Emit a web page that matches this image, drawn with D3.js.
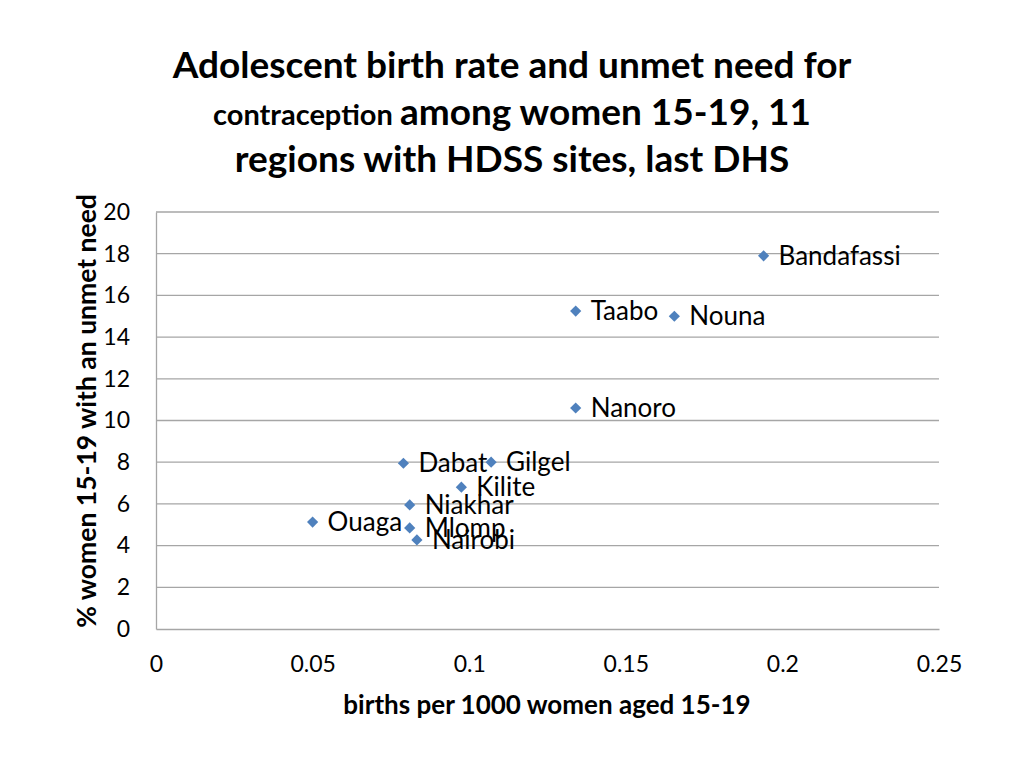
<!DOCTYPE html>
<html><head><meta charset="utf-8">
<script src="https://cdn.jsdelivr.net/npm/d3@7"></script>
<style>body{margin:0;background:#fff}svg{display:block}text{font-family:Lato,"Open Sans",sans-serif}</style>
</head><body><svg id="c" width="1024" height="768"></svg>
<script>
const sites = ["Bandafassi","Taabo","Nouna","Nanoro","Dabat","Gilgel","Kilite","Niakhar","Ouaga","Mlomp","Nairobi"];
const birthRate = [0.194,0.134,0.1655,0.134,0.079,0.107,0.0975,0.081,0.050,0.081,0.0833];
const unmetNeed = [17.9,15.25,15.0,10.6,7.95,8.0,6.8,5.95,5.13,4.85,4.27];
const xTicks = [0,0.05,0.1,0.15,0.2,0.25];
const yTicks = [0,2,4,6,8,10,12,14,16,18,20];

const svg = d3.select("#c");
const x = d3.scaleLinear().domain([0,0.25]).range([156,939]);
const y = d3.scaleLinear().domain([0,20]).range([629,212]);

// gridlines
svg.append("g").selectAll("line").data(yTicks.filter(d=>d>0)).join("line")
  .attr("x1",156).attr("x2",939).attr("y1",d=>y(d)).attr("y2",d=>y(d))
  .attr("stroke","#a6a6a6").attr("stroke-width",1.3);

// axes
const yAxis = svg.append("g").attr("transform","translate(156,0)")
  .call(d3.axisLeft(y).tickValues(yTicks).tickSize(0).tickPadding(26).tickFormat(d3.format("d")));
const xAxis = svg.append("g").attr("transform","translate(0,629)")
  .call(d3.axisBottom(x).tickValues(xTicks).tickSize(0).tickPadding(27).tickFormat(d=>d===0?"0":String(d)));
[yAxis,xAxis].forEach(a=>{
  a.select(".domain").attr("stroke","#a6a6a6").attr("stroke-width",1.3);
  a.selectAll("text").attr("font-size",23).attr("fill","#000").attr("font-family","Lato,sans-serif");
});

// points
const data = sites.map((s,i)=>({s,x:birthRate[i],y:unmetNeed[i]}));
svg.append("g").selectAll("path").data(data).join("path")
  .attr("d",d3.symbol(d3.symbolDiamond2,80))
  .attr("transform",d=>`translate(${x(d.x)},${y(d.y)})`)
  .attr("fill","#4f81bd");
svg.append("g").selectAll("text").data(data).join("text")
  .attr("x",d=>x(d.x)+15).attr("y",d=>y(d.y)+9)
  .attr("font-size",26).attr("fill","#000").text(d=>d.s);

// title
const t = svg.append("text").attr("text-anchor","middle").attr("font-weight","bold").attr("fill","#000");
t.append("tspan").attr("x",512).attr("y",78).attr("font-size",37).text("Adolescent birth rate and unmet need for");
const l2 = t.append("tspan").attr("x",512).attr("y",125);
l2.append("tspan").attr("font-size",29).text("contraception ");
l2.append("tspan").attr("font-size",37).text("among women 15-19, 11");
t.append("tspan").attr("x",512).attr("y",172).attr("font-size",37).text("regions with HDSS sites, last DHS");

svg.append("text").attr("x",547).attr("y",714).attr("text-anchor","middle")
  .attr("font-weight","bold").attr("font-size",26).text("births per 1000 women aged 15-19");
svg.append("text").attr("transform","translate(96,411) rotate(-90)").attr("text-anchor","middle")
  .attr("font-weight","bold").attr("font-size",26.5).text("% women 15-19 with an unmet need");
</script></body></html>
